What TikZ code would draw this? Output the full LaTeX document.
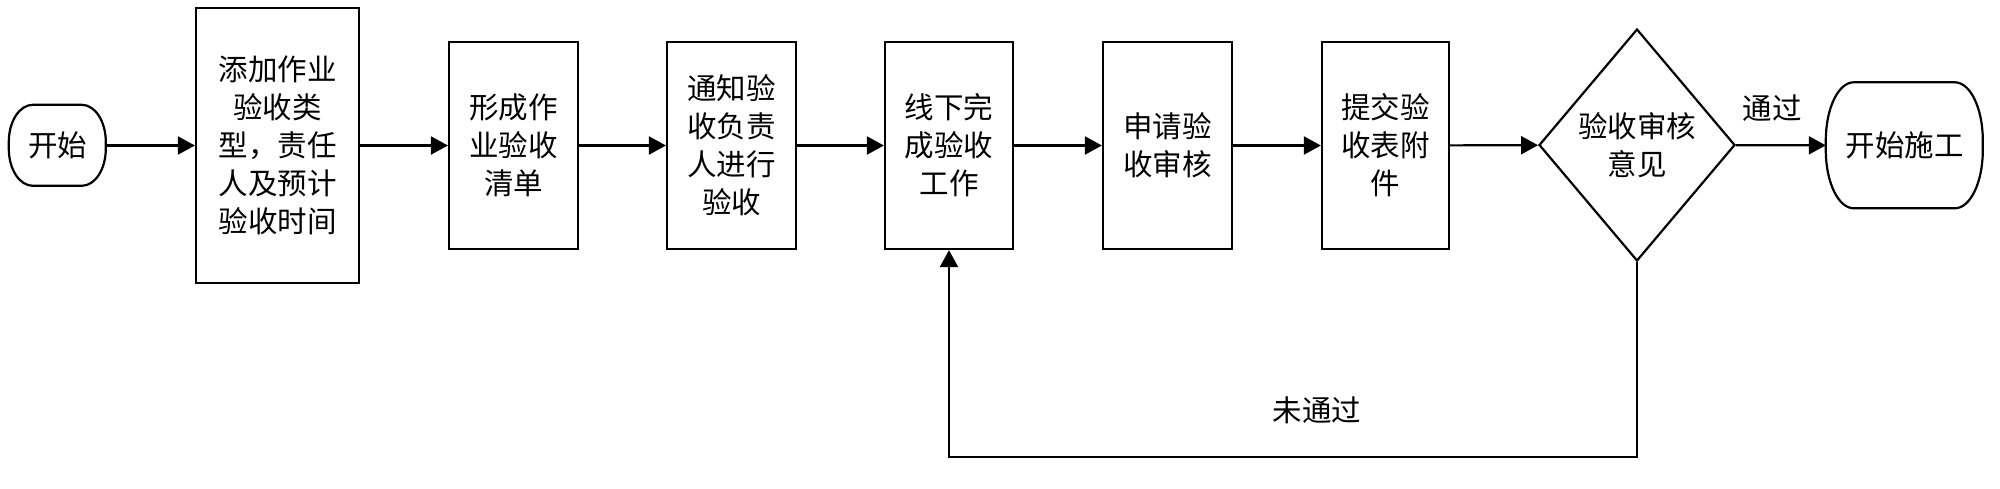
\documentclass[tikz,border=0pt]{standalone}
\usepackage{fontspec}
\setmainfont{Noto Sans CJK SC}
\usetikzlibrary{shapes.geometric,arrows.meta}
\begin{document}
\begin{tikzpicture}[x=1pt,y=-1pt,
  every node/.style={font=\fontsize{29.5}{38}\selectfont, align=center, inner sep=0pt},
  proc/.style={draw, line width=2.2pt, minimum width=129pt, minimum height=207pt},
  term/.style={draw=none},
  dec/.style={draw, line width=2.2pt, diamond, minimum width=196pt, minimum height=232pt},
  flow/.style={line width=2.2pt, -{Triangle[length=17pt,width=18pt]}},
  outline/.style={line width=2.2pt},
  lbl/.style={font=\fontsize{29.5}{38}\selectfont}
]
\useasboundingbox (0,0) rectangle (2000,488);
\node[term, minimum width=97pt, minimum height=81pt] (start) at (57.5,145.5) {开始};
\node[proc, minimum width=163pt, minimum height=275pt] (b1) at (277.5,145.5) {添加作业\\验收类\\型，责任\\人及预计\\验收时间};
\node[proc] (b2) at (513.5,145.5) {形成作\\业验收\\清单};
\node[proc] (b3) at (731.5,145.5) {通知验\\收负责\\人进行\\验收};
\node[proc, minimum width=128pt] (b4) at (949,145.5) {线下完\\成验收\\工作};
\node[proc] (b5) at (1167.5,145.5) {申请验\\收审核};
\node[proc, minimum width=127pt] (b6) at (1385.5,145.5) {提交验\\收表附\\件};
\node[dec] (dia) at (1637,145) {验收审核\\意见};
\node[term, minimum width=157pt, minimum height=126pt] (end) at (1904.5,145.5) {开始施工};
\node[lbl] (pass) at (1772,108) {通过};
\node[lbl] (fail) at (1317,410) {未通过};
% terminal outlines with elliptical corners
\draw[outline] (start.north west) ++(24,0) -- ++(49,0)
  arc[start angle=-90,end angle=0,x radius=24,y radius=37] -- ++(0,7)
  arc[start angle=0,end angle=90,x radius=24,y radius=37] -- ++(-49,0)
  arc[start angle=90,end angle=180,x radius=24,y radius=37] -- ++(0,-7)
  arc[start angle=180,end angle=270,x radius=24,y radius=37] -- cycle;
\draw[outline] (end.north west) ++(28,0) -- ++(101,0)
  arc[start angle=-90,end angle=0,x radius=28,y radius=58] -- ++(0,10)
  arc[start angle=0,end angle=90,x radius=28,y radius=58] -- ++(-101,0)
  arc[start angle=90,end angle=180,x radius=28,y radius=58] -- ++(0,-10)
  arc[start angle=180,end angle=270,x radius=28,y radius=58] -- cycle;
\coordinate (fbr) at (1637,457);
\draw[flow] (start) -- (b1);
\draw[flow] (b1) -- (b2);
\draw[flow] (b2) -- (b3);
\draw[flow] (b3) -- (b4);
\draw[flow] (b4) -- (b5);
\draw[flow] (b5) -- (b6);
\draw[flow] (b6) -- (dia);
\draw[flow] (dia) -- (end);
\draw[flow] (dia.south) -- (fbr) -| (b4.south);
\end{tikzpicture}
\end{document}
